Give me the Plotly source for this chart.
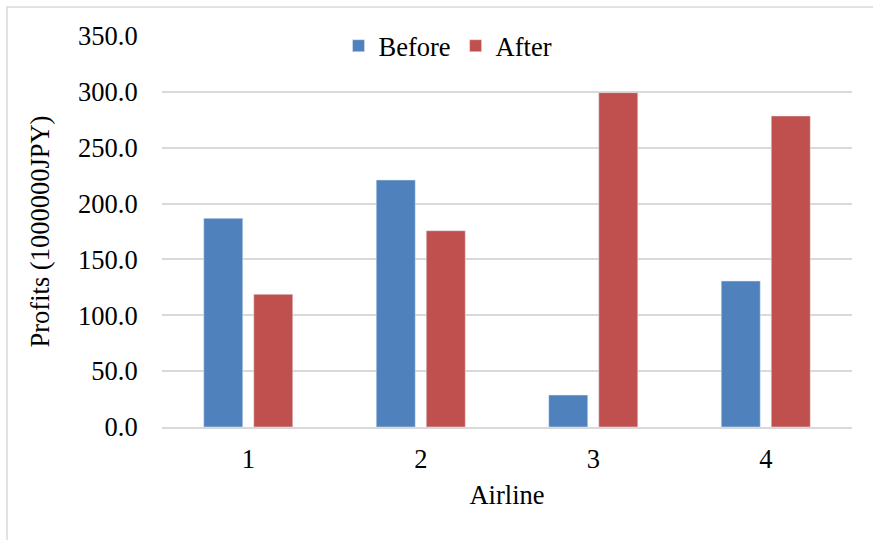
import plotly.graph_objects as go

# Airline profits before and after, in millions of yen
airlines = ["1", "2", "3", "4"]
before = [186.8, 221.1, 28.6, 130.7]
after = [118.8, 175.7, 299.3, 278.4]
y_ticks = [0, 50, 100, 150, 200, 250, 300, 350]

BLUE = "#4F81BD"
RED = "#C0504D"
GRID = "#d9d9d9"
FONT = '"Liberation Serif", "Times New Roman", Times, serif'
FS = 26.5

W, H = 873, 540
L, R, T, B = 162, 21, 36, 113
pw, ph = W - L - R, H - T - B


def px_x(px):
    return (px - L) / pw


def px_y(py):
    return (H - B - py) / ph


fig = go.Figure()
fig.add_trace(go.Bar(name="Before", x=airlines, y=before, marker_color=BLUE))
fig.add_trace(go.Bar(name="After", x=airlines, y=after, marker_color=RED))

fig.update_layout(
    width=W,
    height=H,
    margin=dict(l=L, r=R, t=T, b=B),
    paper_bgcolor="white",
    plot_bgcolor="white",
    font=dict(family=FONT, size=FS, color="black"),
    barmode="group",
    bargap=0.42,
    bargroupgap=0.22,
    showlegend=True,
    legend=dict(
        orientation="h",
        x=px_x(448),
        xanchor="center",
        y=px_y(46),
        yanchor="middle",
        font=dict(family=FONT, size=FS),
        bgcolor="rgba(0,0,0,0)",
        itemwidth=30,
        tracegroupgap=0,
    ),
    xaxis=dict(
        type="category",
        showgrid=False,
        showline=True,
        linecolor=GRID,
        linewidth=2,
        ticks="outside",
        ticklen=7,
        tickcolor="rgba(0,0,0,0)",
        title=dict(text="Airline", standoff=13, font=dict(family=FONT, size=FS)),
        tickfont=dict(family=FONT, size=FS),
    ),
    yaxis=dict(
        range=[0, 350],
        tickvals=y_ticks,
        tickformat=".1f",
        showgrid=True,
        gridcolor=GRID,
        gridwidth=1.5,
        zeroline=False,
        showline=False,
        ticks="outside",
        ticklen=18,
        tickcolor="rgba(0,0,0,0)",
        title=dict(text="Profits (1000000JPY)", standoff=20, font=dict(family=FONT, size=FS)),
        tickfont=dict(family=FONT, size=FS),
    ),
    shapes=[
        dict(
            type="rect",
            xref="paper",
            yref="paper",
            x0=px_x(7),
            x1=px_x(890),
            y0=px_y(560),
            y1=px_y(7),
            line=dict(color=GRID, width=1.5),
            fillcolor="rgba(0,0,0,0)",
            layer="below",
        )
    ],
)

fig.write_html("out.html")
